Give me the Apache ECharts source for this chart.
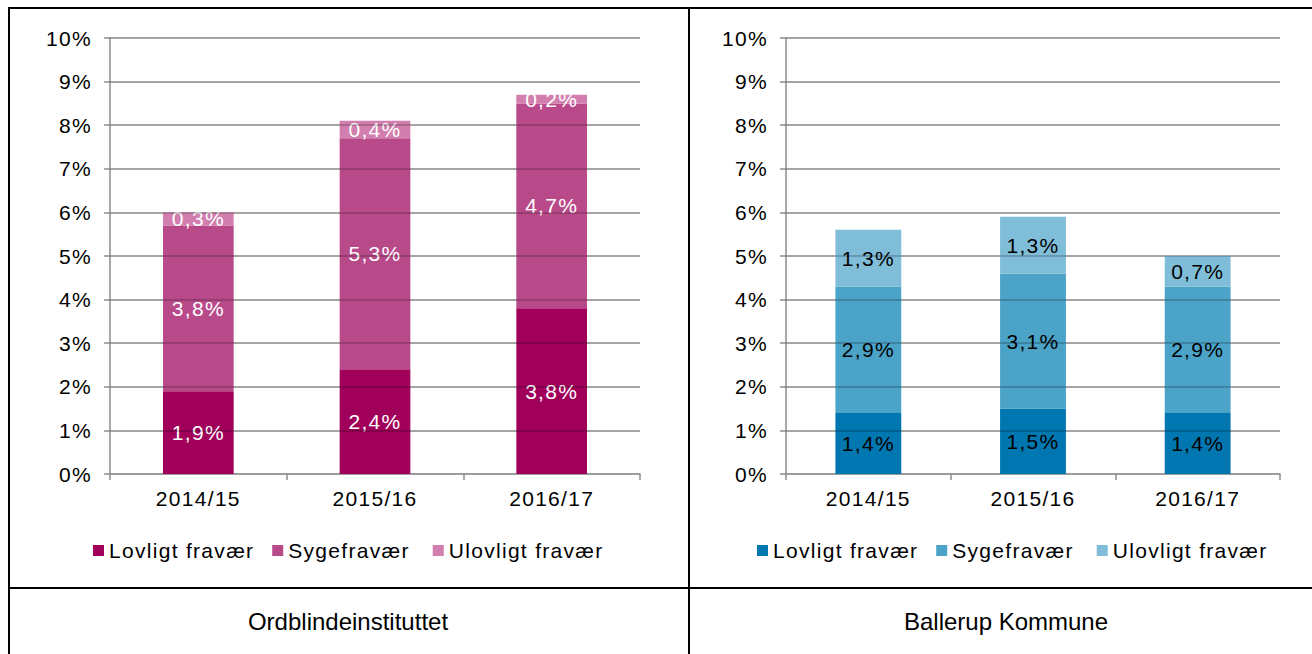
<!DOCTYPE html>
<html>
<head>
<meta charset="utf-8">
<title>Fravær fordelt på fraværstype</title>
<script src="https://cdn.jsdelivr.net/npm/echarts@6/dist/echarts.min.js"></script>
<style>
  html, body { margin: 0; padding: 0; background: #fff; }
  #main { width: 1312px; height: 654px; }
  /* the chart text in the original is spaced out, the table text is not */
  #main text { letter-spacing: 1.3px; }
  #main text[style*="Arial"] { letter-spacing: 0; }
</style>
</head>
<body>
<div id="main"></div>
<script>
var years = ['2014/15', '2015/16', '2016/17'];
var typeNames = ['Lovligt fravær', 'Sygefravær', 'Ulovligt fravær'];
var panelNames = ['Ordblindeinstituttet', 'Ballerup Kommune'];

// Ordblindeinstituttet, % of time
var ordLovligt = [1.9, 2.4, 3.8];
var ordSyge = [3.8, 5.3, 4.7];
var ordUlovligt = [0.3, 0.4, 0.2];

// Ballerup Kommune, % of time
var balLovligt = [1.4, 1.5, 1.4];
var balSyge = [2.9, 3.1, 2.9];
var balUlovligt = [1.3, 1.3, 0.7];

var ordColors = ['#A0005A', '#B94A8A', '#D27EAE'];
var balColors = ['#0077B0', '#4BA3C8', '#80BDD8'];

var FONT = 'Liberation Sans';
var SIZE = 21;
var GRAY = '#8c8c8c';

function pct(v) {
	return v.toFixed(1).replace('.', ',') + '%';
}

function makeSeries(idx, groups, colors, labelColor) {
	return groups.map(function (values, i) {
		return {
			name: typeNames[i],
			type: 'bar',
			stack: 'panel' + idx,
			xAxisIndex: idx,
			yAxisIndex: idx,
			barWidth: '40%',
			data: values,
			itemStyle: { color: colors[i] },
			emphasis: { disabled: true },
			label: {
				show: true,
				position: 'inside',
				color: labelColor,
				fontSize: SIZE,
				fontFamily: FONT,
				formatter: function (p) { return pct(p.value); }
			}
		};
	});
}

function makeXAxis(idx) {
	return {
		type: 'category',
		gridIndex: idx,
		data: years,
		axisLine: { lineStyle: { color: GRAY, width: 1.5 } },
		axisTick: { show: true, length: 6, lineStyle: { color: GRAY, width: 1.5 } },
		axisLabel: { color: '#000', fontSize: SIZE, fontFamily: FONT, margin: 14 }
	};
}

function makeYAxis(idx) {
	return {
		type: 'value',
		gridIndex: idx,
		min: 0,
		max: 10,
		interval: 1,
		axisLine: { show: true, lineStyle: { color: GRAY, width: 1.5 } },
		axisTick: { show: true, length: 6, lineStyle: { color: GRAY, width: 1.5 } },
		// lighter under the bars, the overlay axis below darkens it to the grey
		splitLine: { lineStyle: { color: '#bbbbbb', width: 1.5 } },
		axisLabel: { color: '#000', fontSize: SIZE, fontFamily: FONT, margin: 18, formatter: '{value}%' }
	};
}

// gridlines again, above the bars, so they show through them like in the original
function makeOverlayAxis(idx) {
	return {
		type: 'value',
		gridIndex: idx,
		min: 0,
		max: 10,
		interval: 1,
		z: 3,
		silent: true,
		axisLine: { show: false },
		axisTick: { show: false },
		axisLabel: { show: false },
		splitLine: { showMinLine: false, lineStyle: { color: 'rgba(0,0,0,0.25)', width: 1.5 } }
	};
}

function makeLegend(left, colors) {
	return {
		left: left,
		top: 535,
		itemWidth: 11,
		itemHeight: 11,
		itemGap: 36,
		icon: 'rect',
		selectedMode: false,
		textStyle: { color: '#000', fontSize: SIZE, fontFamily: FONT },
		data: typeNames.map(function (n, i) {
			return { name: n, itemStyle: { color: colors[i] } };
		})
	};
}

function border(x1, y1, x2, y2) {
	return {
		type: 'line',
		silent: true,
		shape: { x1: x1, y1: y1, x2: x2, y2: y2 },
		style: { stroke: '#000', lineWidth: 2 }
	};
}

var chart = echarts.init(document.getElementById('main'), null, { renderer: 'svg' });

chart.setOption({
	animation: false,
	backgroundColor: '#fff',
	textStyle: { fontFamily: FONT },
	grid: [
		{ left: 110, right: 672, top: 38, bottom: 180 },
		{ left: 786, right: 32, top: 38, bottom: 180 }
	],
	xAxis: [makeXAxis(0), makeXAxis(1)],
	yAxis: [makeYAxis(0), makeYAxis(1), makeOverlayAxis(0), makeOverlayAxis(1)],
	legend: [makeLegend(88, ordColors), makeLegend(752, balColors)],
	series: makeSeries(0, [ordLovligt, ordSyge, ordUlovligt], ordColors, '#fff')
		.concat(makeSeries(1, [balLovligt, balSyge, balUlovligt], balColors, '#000')),
	graphic: [
		border(8, 8, 1312, 8),
		border(9, 7, 9, 654),
		border(689, 7, 689, 654),
		border(8, 588, 1312, 588),
		{
			type: 'text', silent: true, x: 348, y: 621,
			style: { text: panelNames[0], font: '24px Arial, Liberation Sans', fill: '#000', align: 'center', verticalAlign: 'middle' }
		},
		{
			type: 'text', silent: true, x: 1006, y: 621,
			style: { text: panelNames[1], font: '24px Arial, Liberation Sans', fill: '#000', align: 'center', verticalAlign: 'middle' }
		}
	]
});
</script>
</body>
</html>
